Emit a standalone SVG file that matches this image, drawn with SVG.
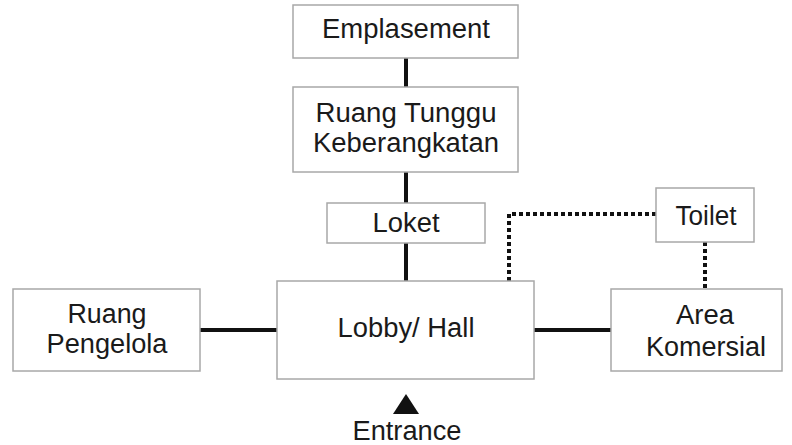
<svg xmlns="http://www.w3.org/2000/svg" width="792" height="445" viewBox="0 0 792 445">
<style>
.box{fill:#fff;stroke:#a8a8a8;stroke-width:1.5}
.t{font-family:"Liberation Sans",Arial,sans-serif;font-size:27px;fill:#1a1a1a;text-anchor:middle}
.solid{stroke:#111;stroke-width:4;fill:none}
.dot{stroke:#111;stroke-width:4;fill:none;stroke-dasharray:4 3}
</style>
<rect width="792" height="445" fill="#fff"/>
<g id="connectors">
<line class="solid" x1="406" y1="58" x2="406" y2="87"/>
<line class="solid" x1="406" y1="172" x2="406" y2="203"/>
<line class="solid" x1="406" y1="243" x2="406" y2="281"/>
<line class="solid" x1="200" y1="330" x2="277" y2="330"/>
<line class="solid" x1="534" y1="330" x2="611" y2="330"/>
<polyline class="dot" points="509,281 509,214 656,214"/>
<line class="dot" x1="705" y1="242" x2="705" y2="289"/>
</g>
<g id="emplasement">
<rect class="box" x="293" y="5" width="225" height="53"/>
<text class="t" x="406" y="38" textLength="168" lengthAdjust="spacingAndGlyphs">Emplasement</text>
</g>
<g id="ruang-tunggu">
<rect class="box" x="293" y="87" width="225" height="85"/>
<text class="t" x="406" y="122" textLength="181" lengthAdjust="spacingAndGlyphs">Ruang Tunggu</text>
<text class="t" x="406" y="152" textLength="186" lengthAdjust="spacingAndGlyphs">Keberangkatan</text>
</g>
<g id="loket">
<rect class="box" x="327" y="203" width="158" height="40"/>
<text class="t" x="406" y="232" textLength="67" lengthAdjust="spacingAndGlyphs">Loket</text>
</g>
<g id="lobby">
<rect class="box" x="277" y="281" width="257" height="98"/>
<text class="t" x="406" y="337" textLength="137" lengthAdjust="spacingAndGlyphs">Lobby/ Hall</text>
</g>
<g id="ruang-pengelola">
<rect class="box" x="13" y="289" width="187" height="82"/>
<text class="t" x="107" y="323" textLength="79" lengthAdjust="spacingAndGlyphs">Ruang</text>
<text class="t" x="107" y="353" textLength="121" lengthAdjust="spacingAndGlyphs">Pengelola</text>
</g>
<g id="toilet">
<rect class="box" x="656" y="188" width="98" height="54"/>
<text class="t" x="706" y="225" textLength="61" lengthAdjust="spacingAndGlyphs">Toilet</text>
</g>
<g id="area-komersial">
<rect class="box" x="611" y="289" width="171" height="82"/>
<text class="t" x="705" y="324" textLength="58" lengthAdjust="spacingAndGlyphs">Area</text>
<text class="t" x="706" y="356" textLength="120" lengthAdjust="spacingAndGlyphs">Komersial</text>
</g>
<g id="entrance">
<polygon points="406,394 419,414 393,414" fill="#111"/>
<text class="t" x="407" y="440" textLength="109" lengthAdjust="spacingAndGlyphs">Entrance</text>
</g>
</svg>
